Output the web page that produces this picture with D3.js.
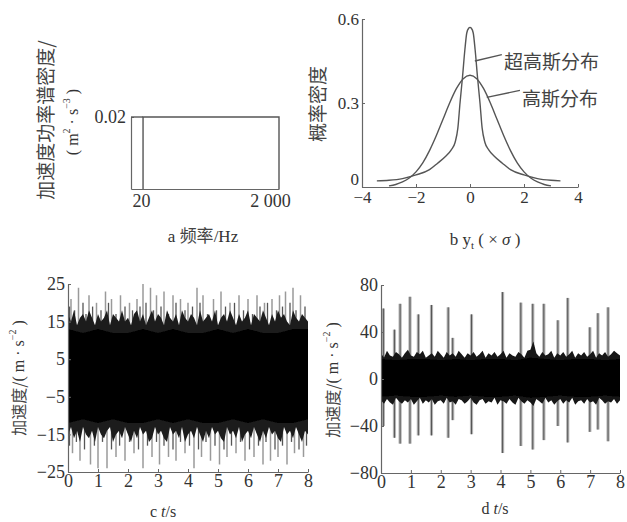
<!DOCTYPE html>
<html><head><meta charset="utf-8">
<script src="https://cdn.jsdelivr.net/npm/d3@7/dist/d3.min.js"></script>
<style>
html,body{margin:0;padding:0;background:#fff;}
svg{display:block;}
.num{font-family:"Liberation Serif","DejaVu Serif",serif;fill:#333;}
.cjk{font-family:"Noto Sans CJK SC",sans-serif;fill:#444;}
</style></head>
<body>
<svg id="chart" width="627" height="522"></svg>
<script>
// ---------- DATA ----------
// (a) acceleration PSD: flat 0.02 from 20 Hz to 2000 Hz
const psdFreq = [20, 20, 2000, 2000];
const psdVal  = [0, 0.02, 0.02, 0];
const aXTicks = [20, 2000];
const aXTickLabels = ["20", "2 000"];
const aYTicks = [0.02];

// (b) probability density
const gaussX = [-3,-2.75,-2.5,-2.25,-2,-1.75,-1.5,-1.25,-1,-0.75,-0.5,-0.25,0,0.25,0.5,0.75,1,1.25,1.5,1.75,2,2.25,2.5,2.75,3];
const gaussY = [0.004,0.009,0.018,0.032,0.054,0.086,0.13,0.183,0.242,0.301,0.352,0.387,0.399,0.387,0.352,0.301,0.242,0.183,0.13,0.086,0.054,0.032,0.018,0.009,0.004];
const superX = [-3.45,-3,-2.5,-2,-1.5,-1.2,-0.9,-0.7,-0.55,-0.45,-0.37,-0.28,-0.19,-0.12,-0.05,0,0.05,0.12,0.19,0.28,0.37,0.45,0.55,0.7,0.9,1.2,1.5,2,2.5,3,3.35];
const superY = [0.022,0.024,0.03,0.043,0.062,0.085,0.11,0.132,0.16,0.21,0.3,0.39,0.49,0.55,0.567,0.57,0.567,0.55,0.49,0.39,0.3,0.21,0.16,0.132,0.11,0.085,0.062,0.043,0.03,0.024,0.022];
const bXTicks = [-4,-2,0,2,4];
const bYTicks = [0,0.3,0.6];
const bLegend = ["超高斯分布", "高斯分布"];

// (c) Gaussian random acceleration signal, 0–8 s
const cOutHi = [17,15,18,14,16,17,15,18,16,14,17,15,16,18,14,17,16,15,18,15,16,14,17,18,15,17,14,16,18,15,17,16,14,18,16,15,17,14,18,16,15,17,16,14,18,15,16,17,15,18,14,16,17,15,18,16,14,17,15,16,18,14,17,16,15,18,16,14,17,15,18,16,17,15,14,18,16,15,17,16,15];
const cOutLo = [-15,-13,-16,-14,-17,-13,-15,-16,-14,-17,-13,-15,-16,-14,-13,-17,-15,-14,-16,-13,-15,-17,-14,-16,-13,-15,-14,-17,-16,-13,-15,-14,-16,-17,-13,-15,-14,-16,-13,-17,-15,-14,-16,-13,-15,-17,-14,-16,-13,-15,-14,-16,-17,-13,-15,-14,-16,-13,-17,-15,-14,-16,-13,-15,-17,-14,-16,-13,-15,-14,-16,-17,-13,-15,-14,-16,-13,-15,-17,-14,-15];
const cCoreHi = [13,12,13,12,12,13,12,13,12,12,13,12,13,12,12,13,13];
const cCoreLo = [-12,-11,-12,-11,-12,-12,-11,-12,-11,-12,-12,-11,-12,-11,-12,-12,-11];
const cUpT = [0.1,0.35,0.7,0.95,1.25,1.45,1.75,2.05,2.3,2.5,2.75,2.95,3.2,3.5,3.75,4.0,4.3,4.5,4.85,5.1,5.4,5.7,6.0,6.3,6.55,6.8,7.05,7.25,7.5,7.75];
const cUpV = [21,24,22,20,23,21,22,20,21,25,24,22,23,22,21,20,24,22,21,23,20,22,21,22,20,21,22,23,24,22];
const cDnT = [0.15,0.4,0.75,1.0,1.3,1.6,1.9,2.2,2.5,2.8,3.05,3.35,3.6,3.9,4.2,4.45,4.75,5.05,5.3,5.6,5.9,6.2,6.5,6.75,7.0,7.3,7.55,7.85];
const cDnV = [-20,-22,-23,-24,-24,-21,-22,-20,-24,-21,-23,-21,-22,-20,-24,-21,-22,-23,-21,-20,-22,-21,-23,-22,-21,-23,-20,-21];
const cMidUpT = [0.05,0.22,0.5,0.6,0.82,1.1,1.35,1.6,1.9,2.15,2.4,2.6,2.85,3.1,3.35,3.6,3.9,4.15,4.4,4.65,4.95,5.25,5.55,5.85,6.15,6.4,6.65,6.95,7.15,7.4,7.6,7.9];
const cMidUpV = [19,18,20,17,19,18,20,17,19,18,19,20,18,19,17,20,18,19,20,17,18,19,20,18,17,19,20,18,19,20,18,19];
const cMidDnT = [0.05,0.28,0.55,0.88,1.15,1.45,1.72,2.05,2.35,2.65,2.95,3.2,3.5,3.75,4.05,4.35,4.6,4.9,5.2,5.45,5.75,6.05,6.35,6.6,6.9,7.15,7.45,7.7,7.95];
const cMidDnV = [-18,-17,-19,-18,-17,-19,-18,-17,-19,-18,-17,-18,-19,-17,-18,-19,-17,-18,-19,-18,-17,-19,-18,-17,-19,-18,-17,-19,-18];
const cYTicks = [-25,-15,-5,5,15,25];
const tTicks = [0,1,2,3,4,5,6,7,8];

// (d) super-Gaussian (impulsive) acceleration signal, 0–8 s
const dOutHi = [22,18,24,20,19,23,21,18,22,25,20,19,23,21,24,18,20,22,19,24,21,18,23,20,22,19,24,21,18,22,20,23,19,21,24,18,22,20,23,19,21,24,18,22,20,19,23,21,18,24,25,32,22,19,23,20,21,24,18,22,20,23,19,21,24,18,22,20,23,19,21,24,18,22,20,23,19,21,24,22,20];
const dOutLo = [-18,-21,-17,-20,-22,-16,-19,-21,-18,-20,-17,-22,-19,-16,-21,-18,-20,-17,-22,-19,-18,-21,-16,-20,-19,-22,-17,-18,-21,-19,-16,-20,-22,-18,-17,-21,-19,-20,-16,-22,-18,-19,-21,-17,-20,-22,-16,-19,-21,-18,-20,-23,-17,-19,-21,-16,-20,-18,-22,-19,-17,-21,-18,-20,-16,-22,-19,-18,-21,-17,-20,-19,-22,-16,-18,-21,-19,-20,-17,-21,-18];
const dCoreHi = [17,16,17,17,16,17,16,17,17,16,18,17,16,17,17,16,17];
const dCoreLo = [-15,-14,-15,-15,-14,-15,-14,-15,-15,-14,-16,-15,-14,-15,-15,-14,-15];
const dSpikeT  = [0.08,0.45,0.64,0.97,1.25,1.69,2.25,2.4,3.03,4.07,4.68,5.08,5.45,5.92,6.25,6.99,7.26,7.6];
const dSpikeHi = [60,42,64,70,55,63,61,35,55,74,65,64,64,50,69,44,56,61];
const dSpikeLo = [-40,-50,-55,-55,-48,-48,-50,-35,-47,-63,-57,-60,-52,-40,-54,-45,-43,-53];
const dYTicks = [-80,-40,0,40,80];

// ---------- DRAW ----------
const svg = d3.select("#chart");
svg.append("rect").attr("width",627).attr("height",522).attr("fill","#fff");
const defs = svg.append("defs");
defs.append("filter").attr("id","soft").attr("x","-5%").attr("y","-5%").attr("width","110%").attr("height","110%")
  .append("feGaussianBlur").attr("stdDeviation",0.7);
const minus = s => String(s).replace("-", "\u2212");
const axisCol = "#666";

function styleAxis(g, fs){
  g.selectAll("path.domain").attr("stroke", axisCol).attr("stroke-width",1.2);
  g.selectAll(".tick line").attr("stroke", axisCol).attr("stroke-width",1);
  g.selectAll("text").attr("class","num").attr("font-size",fs).attr("fill","#333");
}

// ===== panel a =====
{
  const x = d3.scaleLog().domain([13.3, 2000]).range([131, 279]);
  const y = d3.scaleLinear().domain([0, 0.02]).range([189, 117]);
  const gx = svg.append("g").attr("transform","translate(0,189)")
    .call(d3.axisBottom(x).tickValues(aXTicks).tickFormat((d,i)=>aXTickLabels[i]).tickSize(0).tickPadding(5));
  styleAxis(gx, 18);
  gx.selectAll("text").attr("dx",(d,i)=> i===1 ? -9 : -2);
  const gy = svg.append("g").attr("transform","translate(131,0)")
    .call(d3.axisLeft(y).tickValues(aYTicks).tickFormat(d3.format(".2f")).tickSizeInner(-3).tickSizeOuter(0).tickPadding(5));
  styleAxis(gy, 18);
  const line = d3.line().x((d,i)=>x(psdFreq[i])).y((d,i)=>y(psdVal[i]));
  svg.append("path").datum(psdFreq).attr("d", line).attr("fill","none").attr("stroke","#555").attr("stroke-width",1.4);
  svg.append("line").attr("x1",131).attr("x2",x(20)).attr("y1",y(0.02)).attr("y2",y(0.02)).attr("stroke","#555").attr("stroke-width",1.4);

  svg.append("text").attr("class","cjk").attr("font-size",19)
    .attr("transform","translate(44,120) rotate(-90)").attr("text-anchor","middle").attr("dominant-baseline","central")
    .text("加速度功率谱密度/");
  const t2 = svg.append("text").attr("class","num").attr("font-size",16)
    .attr("transform","translate(72,122) rotate(-90)").attr("text-anchor","middle").attr("dominant-baseline","central");
  t2.append("tspan").text("( m");
  t2.append("tspan").attr("dy",-6).attr("font-size",10).text("2");
  t2.append("tspan").attr("dy",6).text(" · s");
  t2.append("tspan").attr("dy",-6).attr("font-size",10).text("\u22123");
  t2.append("tspan").attr("dy",6).text(" )");

  const xl = svg.append("text").attr("x",203).attr("y",242).attr("text-anchor","middle");
  xl.append("tspan").attr("class","num").attr("font-size",17).text("a  ");
  xl.append("tspan").attr("class","cjk").attr("font-size",17).text("频率");
  xl.append("tspan").attr("class","num").attr("font-size",17).text("/Hz");
}

// ===== panel b =====
{
  const x = d3.scaleLinear().domain([-4, 4]).range([362, 578]);
  const y = d3.scaleLinear().domain([0, 0.6]).range([187, 19]);
  const gx = svg.append("g").attr("transform","translate(0,187)")
    .call(d3.axisBottom(x).tickValues(bXTicks).tickFormat(d=>minus(d)).tickSizeInner(-3).tickSizeOuter(0).tickPadding(4));
  styleAxis(gx, 17);
  const gy = svg.append("g").attr("transform","translate(362,0)")
    .call(d3.axisLeft(y).tickValues(bYTicks).tickFormat(d=> d===0 ? "0" : d3.format(".1f")(d)).tickSizeInner(-3).tickSizeOuter(0).tickPadding(3));
  styleAxis(gy, 17);
  gy.selectAll("text").attr("dy",(d)=> d===0 ? "-0.15em" : "0.32em");

  const lineG = d3.line().x((d,i)=>x(gaussX[i])).y((d,i)=>y(gaussY[i])).curve(d3.curveMonotoneX);
  const lineS = d3.line().x((d,i)=>x(superX[i])).y((d,i)=>y(superY[i])).curve(d3.curveMonotoneX);
  svg.append("path").datum(gaussX).attr("d",lineG).attr("fill","none").attr("stroke","#555").attr("stroke-width",1.4);
  svg.append("path").datum(superX).attr("d",lineS).attr("fill","none").attr("stroke","#555").attr("stroke-width",1.4);

  svg.append("line").attr("x1",x(0.18)).attr("y1",y(0.45)).attr("x2",x(1.18)).attr("y2",y(0.473)).attr("stroke","#555").attr("stroke-width",1.3);
  svg.append("text").attr("class","cjk").attr("font-size",19).attr("x",504).attr("y",60).attr("dominant-baseline","central").text(bLegend[0]);
  svg.append("line").attr("x1",x(0.62)).attr("y1",y(0.32)).attr("x2",x(1.85)).attr("y2",y(0.345)).attr("stroke","#555").attr("stroke-width",1.3);
  svg.append("text").attr("class","cjk").attr("font-size",19).attr("x",522).attr("y",97).attr("dominant-baseline","central").text(bLegend[1]);

  svg.append("text").attr("class","cjk").attr("font-size",19)
    .attr("transform","translate(316,104) rotate(-90)").attr("text-anchor","middle").attr("dominant-baseline","central")
    .text("概率密度");

  const xl = svg.append("text").attr("class","num").attr("font-size",17).attr("x",485).attr("y",245).attr("text-anchor","middle");
  xl.append("tspan").text("b  y");
  xl.append("tspan").attr("dy",4).attr("font-size",11).text("t");
  xl.append("tspan").attr("dy",-4).text(" ( × ");
  xl.append("tspan").attr("font-style","italic").text("σ");
  xl.append("tspan").text(" )");
}

// helper for signal panels
function signalPanel(opt){
  const x = d3.scaleLinear().domain([0, 8]).range(opt.xr);
  const y = d3.scaleLinear().domain(opt.yd).range(opt.yr);
  const idxT = (arr) => (d,i) => x(i * 8 / (arr.length - 1));
  const g = svg.append("g").attr("filter","url(#soft)");
  opt.spikes.forEach(s => {
    g.selectAll(null).data(s.t).join("line")
      .attr("x1",(d)=>x(d)).attr("x2",(d)=>x(d))
      .attr("y1",y(0)).attr("y2",(d,i)=>y(s.v[i]))
      .attr("stroke",s.color).attr("stroke-width",s.w);
  });
  const areaOut = d3.area().x(idxT(opt.outHi)).y0((d,i)=>y(opt.outLo[i])).y1((d,i)=>y(opt.outHi[i]));
  g.append("path").datum(opt.outHi).attr("d",areaOut).attr("fill",opt.outFill);
  const areaCore = d3.area().x(idxT(opt.coreHi)).y0((d,i)=>y(opt.coreLo[i])).y1((d,i)=>y(opt.coreHi[i]));
  g.append("path").datum(opt.coreHi).attr("d",areaCore).attr("fill","#000");

  const gx = svg.append("g").attr("transform",`translate(0,${opt.yr[0]})`)
    .call(d3.axisBottom(x).tickValues(tTicks).tickFormat(d3.format("d")).tickSizeInner(-3).tickSizeOuter(0).tickPadding(2));
  styleAxis(gx, 18);
  const gy = svg.append("g").attr("transform",`translate(${opt.xr[0]},0)`)
    .call(d3.axisLeft(y).tickValues(opt.yTicks).tickFormat(d=>minus(d)).tickSizeInner(-3).tickSizeOuter(0).tickPadding(3));
  styleAxis(gy, 18);

  const yl = svg.append("text").attr("font-size",16)
    .attr("transform",`translate(${opt.ylx},${opt.yly}) rotate(-90)`).attr("text-anchor","middle").attr("dominant-baseline","central");
  yl.append("tspan").attr("class","cjk").text("加速度/");
  yl.append("tspan").attr("class","num").text("( m · s");
  yl.append("tspan").attr("class","num").attr("dy",-6).attr("font-size",10).text("\u22122");
  yl.append("tspan").attr("class","num").attr("dy",6).text(" )");

  const xl = svg.append("text").attr("class","num").attr("font-size",16).attr("x",opt.xlx).attr("y",opt.xly).attr("text-anchor","middle");
  xl.append("tspan").text(opt.letter + "  ");
  xl.append("tspan").attr("font-style","italic").text("t");
  xl.append("tspan").text("/s");
}

signalPanel({
  xr:[68,308], yd:[-25,25], yr:[472,284],
  outHi:cOutHi, outLo:cOutLo, coreHi:cCoreHi, coreLo:cCoreLo, outFill:"#1c1c1c",
  spikes:[{t:cUpT, v:cUpV, color:"#9a9a9a", w:1.5},{t:cDnT, v:cDnV, color:"#9a9a9a", w:1.5},
          {t:cMidUpT, v:cMidUpV, color:"#555", w:1.3},{t:cMidDnT, v:cMidDnV, color:"#555", w:1.3}],
  yTicks:cYTicks, ylx:18, yly:378, xlx:163, xly:517, letter:"c"
});

signalPanel({
  xr:[381,620], yd:[-80,80], yr:[473,285],
  outHi:dOutHi, outLo:dOutLo, coreHi:dCoreHi, coreLo:dCoreLo, outFill:"#141414",
  spikes:[{t:dSpikeT, v:dSpikeHi, color:"#b4b4b4", w:3.2},{t:dSpikeT, v:dSpikeLo, color:"#b4b4b4", w:3.2},
          {t:dSpikeT, v:dSpikeHi, color:"#555", w:1},{t:dSpikeT, v:dSpikeLo, color:"#555", w:1}],
  yTicks:dYTicks, ylx:332, yly:380, xlx:495, xly:514, letter:"d"
});
</script>
</body></html>
